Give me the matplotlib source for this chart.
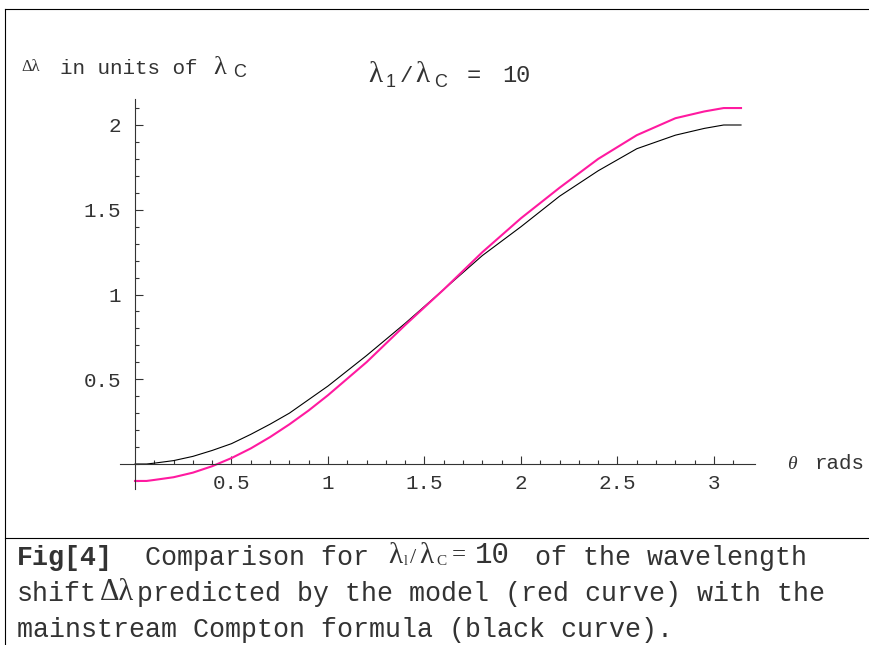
import numpy as np
import matplotlib.pyplot as plt
from matplotlib.lines import Line2D

# scattering angle (rads) and wavelength shift in units of lambda_C
theta = [0.0, 0.06, 0.1, 0.2, 0.3, 0.4, 0.5, 0.6, 0.7, 0.8, 0.9, 1.0,
         1.2, 1.4, 1.6, 1.8, 2.0, 2.2, 2.4, 2.6, 2.8, 2.95, 3.0, 3.05, 3.14]
compton = [0.0, 0.0, 0.005, 0.02, 0.045, 0.08, 0.12, 0.175, 0.235, 0.30, 0.38, 0.46,
           0.64, 0.83, 1.03, 1.23, 1.40, 1.58, 1.73, 1.86, 1.94, 1.98, 1.99, 2.0, 2.0]
model = [-0.10, -0.10, -0.094, -0.078, -0.051, -0.013, 0.035, 0.092, 0.159, 0.234, 0.316, 0.406,
         0.601, 0.82, 1.03, 1.25, 1.45, 1.63, 1.80, 1.94, 2.04, 2.08, 2.09, 2.10, 2.10]

xticks = [0.5, 1, 1.5, 2, 2.5, 3]
yticks = [0.5, 1, 1.5, 2]

W, H = 870, 645
fig = plt.figure(figsize=(W / 100, H / 100), dpi=100)

# axes placed so that theta=0 sits at x=135px, delta=0 at y=464px
x0, y0 = 120, 95
x1, y1 = 760, 495
ax = fig.add_axes([x0 / W, 1 - y1 / H, (x1 - x0) / W, (y1 - y0) / H])
ax.set_xlim((x0 - 135) / 193, (x1 - 135) / 193)
ax.set_ylim((464 - y1) / 169.5, (464 - y0) / 169.5)
ax.patch.set_visible(False)

ax.plot(theta, compton, color="black", lw=0.8)
ax.plot(theta, model, color="#ff1aa0", lw=1.5)

for s in ["top", "right"]:
    ax.spines[s].set_visible(False)
ax.spines["left"].set_position(("data", 0))
ax.spines["bottom"].set_position(("data", 0))
ax.spines["left"].set_bounds(-0.148, 2.153)
ax.spines["bottom"].set_bounds(-0.08, 3.21)
for s in ["left", "bottom"]:
    ax.spines[s].set_color("#333333")
    ax.spines[s].set_linewidth(0.8)

ax.set_xticks(xticks)
ax.set_xticklabels(["0.5", "1", "1.5", "2", "2.5", "3"])
ax.set_yticks(yticks)
ax.set_yticklabels(["0.5", "1", "1.5", "2"])
ax.set_xticks(np.arange(0.1, 3.2, 0.1), minor=True)
ax.set_yticks(np.arange(-0.1, 2.15, 0.1), minor=True)
ax.tick_params(which="major", direction="in", length=6, width=0.8, color="#333333")
ax.tick_params(which="minor", direction="in", length=3, width=0.8, color="#333333")
ax.tick_params(axis="x", pad=7, labelsize=15)
ax.tick_params(axis="y", pad=10, labelsize=15)
for lab in ax.get_xticklabels() + ax.get_yticklabels():
    lab.set_family("Liberation Mono")
    lab.set_color("#333333")


def put(px, py, s, size=15, family="Liberation Mono", **kw):
    # px, py: left edge and baseline in pixels from the top-left corner
    fig.text(px / W, 1 - py / H, s, fontsize=size, family=family,
             va="baseline", ha="left", color="#333333", **kw)


# y axis label
put(21, 71, "Δλ", size=12, family="Liberation Serif")
put(60, 74, "in units of", size=15)
put(213, 74, "λ", size=19, family="Liberation Serif")
put(233, 77, "C", size=13, family="Liberation Sans")

# title
put(368, 82, "λ", size=21, family="Liberation Serif")
put(386, 87, "1", size=13, family="Liberation Sans")
put(400, 82, "/", size=16)
put(415, 82, "λ", size=21, family="Liberation Serif")
put(434, 87, "C", size=13, family="Liberation Sans")
put(467, 82, "=", size=17)
put(502, 82, "10", size=17)

# x axis label
put(787, 469, "θ", size=14, family="Liberation Serif", style="italic")
put(815, 469, "rads", size=15)

# frame lines
fig.add_artist(Line2D([5.5 / W, 5.5 / W], [0, 1 - 8.5 / H], color="black", lw=0.8))
fig.add_artist(Line2D([5.5 / W, 1], [1 - 8.5 / H, 1 - 8.5 / H], color="black", lw=0.8))
fig.add_artist(Line2D([5.5 / W, 1], [1 - 537.5 / H, 1 - 537.5 / H], color="black", lw=0.8))

# caption
cs = 19.2
b1, b2, b3 = 565, 601, 637
put(17, b1, "Fig[4]", size=cs, weight="bold")
put(145, b1, "Comparison for", size=cs)
put(388, b1 - 2, "λ", size=21, family="Liberation Serif")
put(404, b1, "l", size=10, family="Liberation Serif")
put(410, b1 - 2, "/", size=16, family="Liberation Serif")
put(419, b1 - 2, "λ", size=21, family="Liberation Serif")
put(436, b1, "C", size=11, family="Liberation Serif")
put(452, b1 - 4, "=", size=18, family="Liberation Serif")
put(475, b1 - 2, "10", size=21)
put(535, b1, "of the wavelength", size=cs)
put(17, b2, "shift", size=cs)
put(100, b2 - 1, "Δλ", size=22, family="Liberation Serif")
put(137, b2, "predicted by the model (red curve) with the", size=cs)
put(17, b3, "mainstream Compton formula (black curve).", size=cs)

plt.savefig("out.png", dpi=100)
